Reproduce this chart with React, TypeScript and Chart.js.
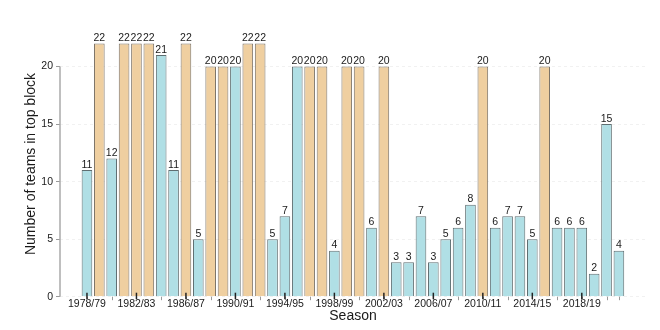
import React, { useEffect, useRef } from 'react';
import { Chart, registerables } from 'chart.js';

Chart.register(...registerables);

const seasons = [
  '1978/79', '1979/80', '1980/81', '1981/82', '1982/83', '1983/84', '1984/85', '1985/86',
  '1986/87', '1987/88', '1988/89', '1989/90', '1990/91', '1991/92', '1992/93', '1993/94',
  '1994/95', '1995/96', '1996/97', '1997/98', '1998/99', '1999/00', '2000/01', '2001/02',
  '2002/03', '2003/04', '2004/05', '2005/06', '2006/07', '2007/08', '2008/09', '2009/10',
  '2010/11', '2011/12', '2012/13', '2013/14', '2014/15', '2015/16', '2016/17', '2017/18',
  '2018/19', '2019/20', '2020/21', '2021/22',
];

const teams = [
  11, 22, 12, 22, 22, 22, 21, 11, 22, 5,
  20, 20, 20, 22, 22, 5, 7, 20, 20, 20,
  4, 20, 20, 6, 20, 3, 3, 7, 3, 5,
  6, 8, 20, 6, 7, 7, 5, 20, 6, 6,
  6, 2, 15, 4,
];

// 1 = tan bar, 0 = light blue bar
const singleTable = [
  0, 1, 0, 1, 1, 1, 0, 0, 1, 0,
  1, 1, 0, 1, 1, 0, 0, 0, 1, 1,
  0, 1, 1, 0, 1, 0, 0, 0, 0, 0,
  0, 0, 1, 0, 0, 0, 0, 1, 0, 0,
  0, 0, 0, 0,
];

const tickLabels = [
  '1978/79', '1982/83', '1986/87', '1990/91', '1994/95', '1998/99',
  '2002/03', '2006/07', '2010/11', '2014/15', '2018/19',
];

const minorTickSeasons = [
  '1978/79', '1980/81', '1982/83', '1984/85', '1986/87', '1988/89', '1990/91', '1992/93',
  '1994/95', '1996/97', '1998/99', '2000/01', '2002/03', '2004/05', '2006/07', '2008/09',
  '2010/11', '2012/13', '2014/15', '2016/17', '2018/19', '2020/21', '2021/22',
];

const yTicks = [0, 5, 10, 15, 20];

const BLUE = '#b0dfe5';
const TAN = '#efcfa0';
const FONT = '"Liberation Sans", Arial, Helvetica, sans-serif';

export default function App() {
  const canvasRef = useRef<HTMLCanvasElement | null>(null);

  useEffect(() => {
    const canvas = canvasRef.current;
    if (!canvas) return;

    const tickIdx = tickLabels.map((l) => seasons.indexOf(l));
    const minorIdx = minorTickSeasons.map((l) => seasons.indexOf(l));

    const decorations = {
      id: 'decorations',
      afterDatasetsDraw(chart: any) {
        const { ctx, scales } = chart;
        const xs = scales.x;
        const ys = scales.y;
        const y0 = ys.getPixelForValue(0);
        ctx.save();
        // y axis line from 0 to 20
        ctx.strokeStyle = '#aaaaaa';
        ctx.lineWidth = 1.5;
        ctx.beginPath();
        ctx.moveTo(chart.chartArea.left, ys.getPixelForValue(yTicks[0]));
        ctx.lineTo(chart.chartArea.left, ys.getPixelForValue(yTicks[yTicks.length - 1]));
        ctx.stroke();
        // minor x ticks
        ctx.strokeStyle = '#999999';
        ctx.lineWidth = 1;
        minorIdx.forEach((i) => {
          const px = Math.round(xs.getPixelForValue(i)) + 0.5;
          ctx.beginPath();
          ctx.moveTo(px, y0);
          ctx.lineTo(px, y0 + 3.5);
          ctx.stroke();
        });
        // major x ticks
        ctx.strokeStyle = '#222222';
        ctx.lineWidth = 1.5;
        tickIdx.forEach((i) => {
          const px = xs.getPixelForValue(i);
          ctx.beginPath();
          ctx.moveTo(px, y0 - 4);
          ctx.lineTo(px, y0 + 2.5);
          ctx.stroke();
        });
        // value labels
        const meta = chart.getDatasetMeta(0);
        ctx.fillStyle = '#1a1a1a';
        ctx.font = `10.5px ${FONT}`;
        ctx.textAlign = 'center';
        ctx.textBaseline = 'alphabetic';
        meta.data.forEach((bar: any, i: number) => {
          ctx.fillText(String(teams[i]), bar.x, bar.y - 2.5);
        });
        // y title
        ctx.font = `14px ${FONT}`;
        ctx.fillStyle = '#1a1a1a';
        ctx.textBaseline = 'middle';
        ctx.translate(31, chart.height / 2 - 1);
        ctx.rotate(-Math.PI / 2);
        ctx.fillText('Number of teams in top block', 0, 0);
        ctx.restore();
      },
    };

    const chart = new Chart(canvas, {
      type: 'bar',
      data: {
        datasets: [
          {
            data: teams.map((v, i) => ({ x: i, y: v })),
            backgroundColor: teams.map((_, i) => (singleTable[i] ? TAN : BLUE)),
            borderColor: teams.map((_, i) => (singleTable[i] ? '#7d7468' : '#5f6e71')),
            borderWidth: 1,
            categoryPercentage: 1,
            barPercentage: 0.86,
          },
        ],
      },
      options: {
        animation: false,
        responsive: false,
        maintainAspectRatio: false,
        layout: { padding: { top: 20.5, right: 14, left: 0, bottom: 0 } },
        plugins: {
          legend: { display: false },
          tooltip: { enabled: false },
        },
        scales: {
          x: {
            type: 'linear',
            offset: false,
            min: -2.18,
            max: 45.19,
            grid: { display: false, drawTicks: false, offset: false },
            border: { display: false },
            afterBuildTicks: (s: any) => {
              s.ticks = tickIdx.map((v) => ({ value: v }));
            },
            afterFit: (s: any) => {
              s.height = 33.3;
            },
            ticks: {
              autoSkip: false,
              maxRotation: 0,
              minRotation: 0,
              padding: 1,
              color: '#1a1a1a',
              font: { family: FONT, size: 10.5 },
              callback: (v: any) => seasons[Number(v)] ?? '',
            },
            title: {
              display: true,
              text: 'Season',
              color: '#1a1a1a',
              font: { family: FONT, size: 14 },
              padding: { top: 0, bottom: 5 },
            },
          },
          y: {
            min: 0,
            max: 24,
            afterBuildTicks: (s: any) => {
              s.ticks = yTicks.map((v) => ({ value: v }));
            },
            afterFit: (s: any) => {
              s.width = 60;
            },
            grid: {
              color: '#f1f1f1',
              tickColor: '#999999',
              tickLength: 4,
              drawTicks: true,
            },
            border: { display: false, dash: [3, 3] },
            ticks: {
              padding: 3,
              color: '#1a1a1a',
              font: { family: FONT, size: 10.5 },
            },
          },
        },
      },
      plugins: [decorations],
    } as any);

    return () => chart.destroy();
  }, []);

  return (
    <div style={{ position: 'absolute', left: 0, top: 0, width: 660, height: 330, background: '#fff' }}>
      <canvas ref={canvasRef} width={660} height={330} style={{ display: 'block' }} />
    </div>
  );
}
